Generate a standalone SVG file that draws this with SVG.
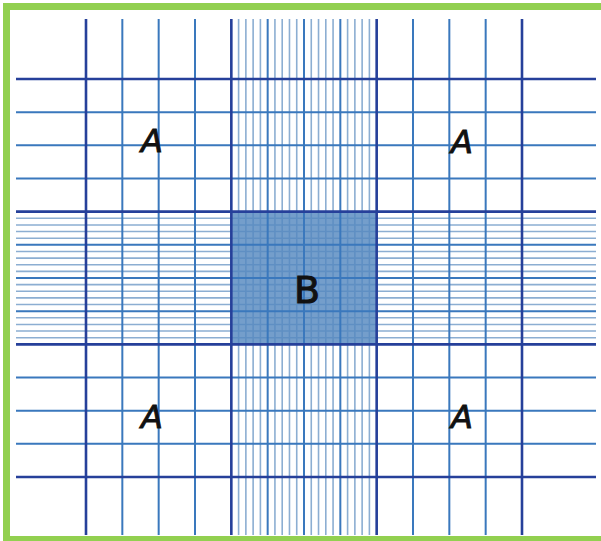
<svg xmlns="http://www.w3.org/2000/svg" width="601" height="541" viewBox="0 0 601 541">
<style>
.fine{stroke:#8caed2;stroke-width:1.6;fill:none}
.light{stroke:#3a78bd;stroke-width:2;fill:none}
.dark{stroke:#26409a;stroke-width:2.6;fill:none}
.lbl{font-family:"DejaVu Sans","Liberation Sans",sans-serif;fill:#111;stroke:#111;stroke-width:1;text-anchor:middle}
</style>
<rect x="0" y="0" width="601" height="541" fill="#ffffff"/>
<g id="border" fill="#92d050">
<rect x="3" y="3" width="7" height="538"/>
<rect x="3" y="3" width="598" height="7"/>
<rect x="3" y="536" width="598" height="5"/>
</g>
<g id="grid">
<path class="fine" d="M238.6 19V535M245.87 19V535M253.13 19V535M260.4 19V535M274.93 19V535M282.2 19V535M289.47 19V535M296.73 19V535M311.27 19V535M318.53 19V535M325.8 19V535M333.07 19V535M347.6 19V535M354.87 19V535M362.13 19V535M369.4 19V535"/>
<path class="fine" d="M16 218.3H596M16 224.93H596M16 231.57H596M16 238.2H596M16 251.47H596M16 258.1H596M16 264.73H596M16 271.37H596M16 284.63H596M16 291.27H596M16 297.9H596M16 304.53H596M16 317.8H596M16 324.43H596M16 331.07H596M16 337.7H596"/>
<rect id="B-area" x="231.33" y="211.67" width="145.34" height="132.66" fill="#5689bf" fill-opacity="0.82"/>
<path class="light" d="M122.33 19V535M158.67 19V535M195 19V535M267.67 19V535M304 19V535M340.33 19V535M413 19V535M449.33 19V535M485.67 19V535"/>
<path class="light" d="M16 112.17H596M16 145.33H596M16 178.5H596M16 244.83H596M16 278H596M16 311.17H596M16 377.5H596M16 410.67H596M16 443.83H596"/>
<path class="dark" d="M86 19V535M231.33 19V535M376.67 19V535M522 19V535"/>
<path class="dark" d="M16 79H596M16 211.67H596M16 344.33H596M16 477H596"/>
</g>
<g id="labels">
<text class="lbl" x="152" y="152" font-size="32" font-style="italic">A</text>
<text class="lbl" x="462" y="153" font-size="32" font-style="italic">A</text>
<text class="lbl" x="152" y="428" font-size="32" font-style="italic">A</text>
<text class="lbl" x="462" y="428" font-size="32" font-style="italic">A</text>
<text class="lbl" x="307" y="303" font-size="38">B</text>
</g>
</svg>
